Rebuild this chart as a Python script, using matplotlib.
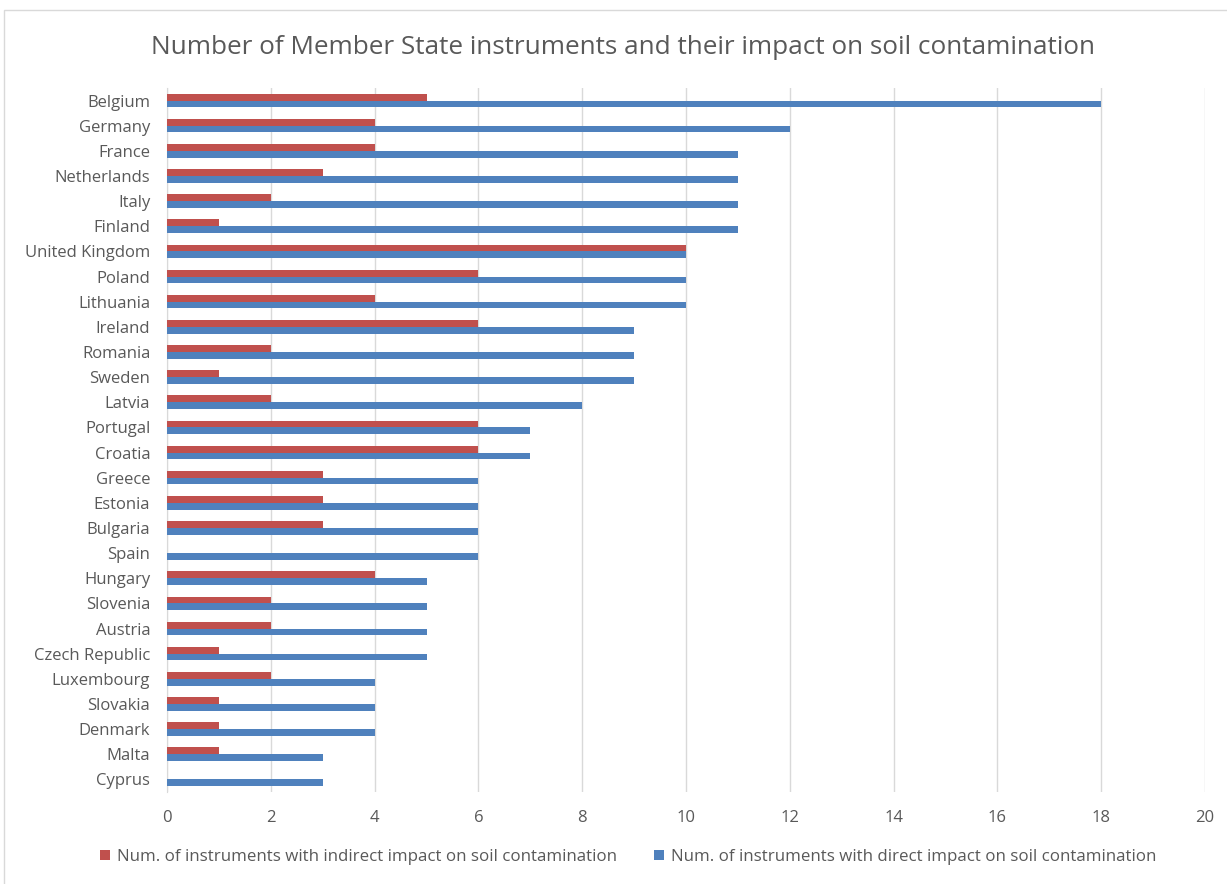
import matplotlib.pyplot as plt
from matplotlib.patches import Rectangle
import numpy as np

countries = ['Belgium', 'Germany', 'France', 'Netherlands', 'Italy', 'Finland',
             'United Kingdom', 'Poland', 'Lithuania', 'Ireland', 'Romania', 'Sweden',
             'Latvia', 'Portugal', 'Croatia', 'Greece', 'Estonia', 'Bulgaria', 'Spain',
             'Hungary', 'Slovenia', 'Austria', 'Czech Republic', 'Luxembourg',
             'Slovakia', 'Denmark', 'Malta', 'Cyprus']
indirect = [5, 4, 4, 3, 2, 1, 10, 6, 4, 6, 2, 1, 2, 6, 6, 3, 3, 3, 0, 4, 2, 2, 1, 2, 1, 1, 1, 0]
direct = [18, 12, 11, 11, 11, 11, 10, 10, 10, 9, 9, 9, 8, 7, 7, 6, 6, 6, 6, 5, 5, 5, 5, 4, 4, 4, 3, 3]
xticks = list(range(0, 21, 2))

title = 'Number of Member State instruments and their impact on soil contamination'
lab_ind = 'Num. of instruments with indirect impact on soil contamination'
lab_dir = 'Num. of instruments with direct impact on soil contamination'

red = '#C0504D'
blue = '#4F81BD'
txt = '#595959'

plt.rcParams['font.family'] = ['Open Sans', 'DejaVu Sans']

fig = plt.figure(figsize=(12.27, 8.84), dpi=100)
ax = fig.add_axes([0.1361, 0.1041, 0.8460, 0.7964])

y = np.arange(len(countries))
h = 0.27
ax.barh(y - h / 2, indirect, height=h, color=red, label=lab_ind, zorder=3)
ax.barh(y + h / 2, direct, height=h, color=blue, label=lab_dir, zorder=3)

ax.set_ylim(len(countries) - 0.5, -0.5)
ax.set_xlim(0, 20)
ax.set_xticks(xticks)
ax.set_yticks(y)
ax.set_yticklabels(countries)
ax.tick_params(axis='both', length=0, labelsize=12, colors=txt)
ax.tick_params(axis='y', pad=12)
ax.tick_params(axis='x', pad=13)
ax.grid(axis='x', color='#d9d9d9', linewidth=1, zorder=0)
for s in ['top', 'right', 'bottom']:
    ax.spines[s].set_visible(False)
ax.spines['left'].set_color('#d9d9d9')

fig.text(0.508, 0.946, title, ha='center', va='center', fontsize=18.8, color=txt)

leg = fig.legend(loc='center', bbox_to_anchor=(0.512, 0.0305), ncol=2, frameon=False,
                 fontsize=12.2, handlelength=0.6, handleheight=0.6, handletextpad=0.4,
                 columnspacing=2.2)
for t in leg.get_texts():
    t.set_color(txt)

fig.patches.append(Rectangle((4 / 1227, -0.01), 1.0, 1 - 10 / 884 + 0.01,
                             transform=fig.transFigure, fill=False,
                             edgecolor='#d9d9d9', linewidth=1))

fig.savefig('out.png', dpi=100)
